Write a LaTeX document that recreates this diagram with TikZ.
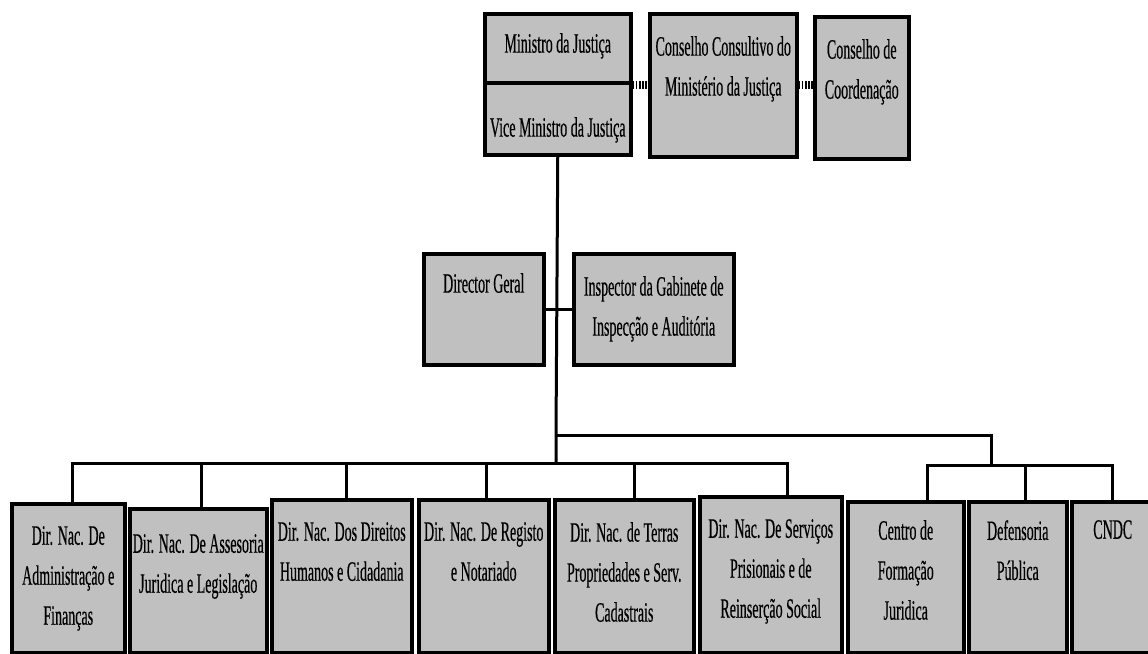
\documentclass[tikz,border=0pt]{standalone}
\usepackage{fontspec}
\setmainfont{Liberation Serif}[FakeStretch=0.5, FakeBold=0.4]
\usepackage{tikz}
\definecolor{boxgray}{RGB}{192,192,192}

\begin{document}
\begin{tikzpicture}[x=1pt,y=-1pt,
    orgbox/.style={draw, line width=3.5pt, fill=boxgray, anchor=north west, inner sep=0pt},
    boxtext/.style={anchor=north, yshift=-24pt, inner sep=0pt, align=center,
        font=\fontsize{28}{40}\selectfont},
    conn/.style={line width=3pt},
    dots/.style={line width=8pt, dash pattern=on 1.6pt off 1.6pt}]
    \useasboundingbox (0,0) rectangle (1148,653);
        % top
        \node[orgbox, minimum width=146, minimum height=69, label={[boxtext, yshift=3pt]north:Ministro da Justiça}] (min) at (483,12) {};
        \node[orgbox, minimum width=146, minimum height=72, label={[boxtext, yshift=-12pt]north:Vice Ministro da Justiça}] (vice) at (483,81) {};
        \node[orgbox, minimum width=147, minimum height=143, label={[boxtext]north:{Conselho Consultivo do\\Ministério da Justiça}}] (ccmj) at (648,12) {};
        \node[orgbox, minimum width=94, minimum height=142, label={[boxtext]north:{Conselho de\\Coordenação}}] (ccoord) at (813,15) {};
        % middle
        \node[orgbox, minimum width=120, minimum height=111, label={[boxtext, yshift=3pt]north:Director Geral}] (dg) at (422,252) {};
        \node[orgbox, minimum width=160, minimum height=111, label={[boxtext]north:{Inspector da Gabinete de\\Inspecção e Auditória}}] (insp) at (572,252) {};
        % bottom
        \node[orgbox, minimum width=113, minimum height=149, label={[boxtext]north:{Dir. Nac. De\\Administração e\\Finanças}}] (adm) at (10,502) {};
        \node[orgbox, minimum width=137, minimum height=144, label={[boxtext, yshift=-3pt]north:{Dir. Nac. De Assesoria\\Juridica e Legislação}}] (jur) at (128,507) {};
        \node[orgbox, minimum width=140, minimum height=153, label={[boxtext]north:{Dir. Nac. Dos Direitos\\Humanos e Cidadania}}] (dhc) at (270,498) {};
        \node[orgbox, minimum width=130, minimum height=153, label={[boxtext]north:{Dir. Nac. De Registo\\e Notariado}}] (reg) at (417,498) {};
        \node[orgbox, minimum width=139, minimum height=153, label={[boxtext]north:{Dir. Nac. de Terras\\Propriedades e Serv.\\Cadastrais}}] (ter) at (553,498) {};
        \node[orgbox, minimum width=142, minimum height=156, label={[boxtext]north:{Dir. Nac. De Serviços\\Prisionais e de\\Reinserção Social}}] (pri) at (698,495) {};
        \node[orgbox, minimum width=116, minimum height=151, label={[boxtext, yshift=4pt]north:{Centro de\\Formação\\Juridica}}] (cfj) at (846,500) {};
        \node[orgbox, minimum width=98, minimum height=151, label={[boxtext, yshift=4pt]north:{Defensoria\\Pública}}] (dp) at (967,500) {};
        \node[orgbox, minimum width=82, minimum height=151, label={[boxtext, yshift=4pt]north:CNDC}] (cndc) at (1070,500) {};

        % buses
        \coordinate (ubus) at (556,435);
        \coordinate (lbus) at (556,463);
        \coordinate (rbus) at (991,465);

        \draw[dots] (min.south east) -- (min.south east -| ccmj.west);
        \draw[dots] (min.south east -| ccmj.east) -- (min.south east -| ccoord.west);
        \draw[conn] (vice.south) -- (ubus) -- (lbus);
        \draw[conn] (dg.east) -- (insp.west);
        \draw[conn] (ubus) -| (rbus);
        \draw[conn] (lbus) -| ([xshift=4pt]adm.north);
        \draw[conn] (lbus) -| ([xshift=3pt]jur.north);
        \draw[conn] (lbus) -| ([xshift=5pt]dhc.north);
        \draw[conn] (lbus) -| ([xshift=3pt]reg.north);
        \draw[conn] (lbus) -| ([xshift=10pt]ter.north);
        \draw[conn] (lbus) -| ([xshift=17pt]pri.north);
        \draw[conn] (rbus) -| ([xshift=22pt]cfj.north);
        \draw[conn] (rbus) -| ([xshift=8pt]dp.north);
        \draw[conn] (rbus) -| (cndc.north);
    \end{tikzpicture}
\end{document}
